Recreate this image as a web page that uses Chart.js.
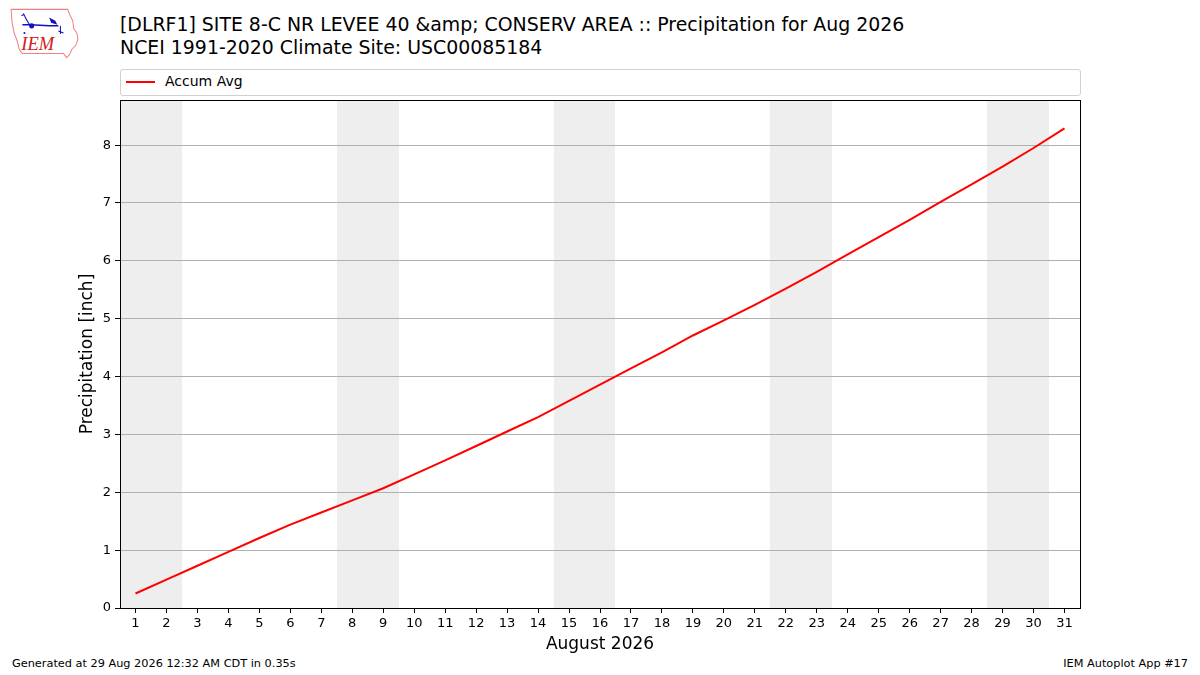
<!DOCTYPE html>
<html>
<head>
<meta charset="utf-8">
<script src="https://cdn.jsdelivr.net/npm/chart.js@4.4.1/dist/chart.umd.min.js"></script>
<style>
  html, body { margin: 0; padding: 0; background: #fff; }
  body { width: 1200px; height: 675px; position: relative; overflow: hidden; font-family: "DejaVu Sans", sans-serif; }
  #plot { position: absolute; left: 0; top: 0; }
  .title { position: absolute; left: 120px; font-size: 18.9px; color: #000; white-space: nowrap; }
  #legend { position: absolute; left: 120px; top: 69px; width: 961px; height: 27px; border: 1px solid #d0d0d0; border-radius: 3px; box-sizing: border-box; }
  #legend .swatch { position: absolute; left: 5px; top: 11px; width: 29px; height: 2px; background: red; }
  #legend .lbl { position: absolute; left: 44px; top: 3px; font-size: 14px; }
  .foot { position: absolute; top: 657px; font-size: 11.3px; white-space: nowrap; }
  #logo { position: absolute; left: 8px; top: 6px; }
</style>
</head>
<body>
<svg id="logo" width="74" height="54" viewBox="0 0 72 52">
  <path d="M3,3 L58,3 L60,8 L63,14 L64,22 L67,26 L68,32 L66,38 L62,42 L60,47 L57,50 L54,46 L14,46 L11,42 L9,34 L6,26 L4,16 Z" fill="none" stroke="#f08080" stroke-width="1"/>
  <path d="M14,18 L22,18 L40,19 L49,19" stroke="#1010c0" stroke-width="1.5" fill="none"/>
  <circle cx="23" cy="19" r="2.5" fill="#1010c0"/>
  <path d="M40,11 L46,14 L48,18 L42,16 Z" fill="#1010c0"/>
  <path d="M15,7 L18,13 L21,18 M13,9 L16,8" stroke="#1010c0" stroke-width="1" fill="none"/>
  <path d="M51,19 L51,27 M49,24 L54,26" stroke="#1010c0" stroke-width="1" fill="none"/>
  <circle cx="16" cy="26" r="1" fill="#1010c0"/>
  <text x="13" y="43" font-family="Liberation Serif, serif" font-style="italic" font-size="18" fill="#d02020">IEM</text>
</svg>
<div class="title" style="top:13px;">[DLRF1] SITE 8-C NR LEVEE 40 &amp;amp; CONSERV AREA :: Precipitation for Aug 2026</div>
<div class="title" style="top:36px;">NCEI 1991-2020 Climate Site: USC00085184</div>
<div id="legend"><div class="swatch"></div><div class="lbl">Accum Avg</div></div>
<div class="foot" style="left:12px;">Generated at 29 Aug 2026 12:32 AM CDT in 0.35s</div>
<div class="foot" style="right:12px;">IEM Autoplot App #17</div>
<canvas id="plot" width="1200" height="675"></canvas>
<script>
// days of August 2026 and the average accumulated precipitation (inch)
const days = [1, 2, 3, 4, 5, 6, 7, 8, 9, 10, 11, 12, 13, 14, 15, 16, 17, 18, 19, 20, 21, 22, 23, 24, 25, 26, 27, 28, 29, 30, 31];
const accumAvg = [0.25, 0.49, 0.73, 0.97, 1.21, 1.44, 1.65, 1.86, 2.07, 2.31, 2.55, 2.80, 3.05, 3.30, 3.58, 3.86, 4.14, 4.42, 4.71, 4.97, 5.24, 5.52, 5.81, 6.11, 6.41, 6.71, 7.02, 7.32, 7.63, 7.95, 8.29];
// Saturdays and Sundays get the grey band
const weekendDays = [1, 2, 8, 9, 15, 16, 22, 23, 29, 30];
const yTicks = [0, 1, 2, 3, 4, 5, 6, 7, 8];

// grey weekend bands go under the grid lines
const weekendBands = {
    id: 'weekendBands',
    beforeDraw(chart) {
        const ctx = chart.ctx;
        const area = chart.chartArea;
        const x = chart.scales.x;
        ctx.save();
        ctx.fillStyle = '#eeeeee';
        weekendDays.forEach(function (d) {
            // rounded so two neighbouring days don't leave a seam
            const x0 = Math.round(x.getPixelForValue(d - 0.5));
            const x1 = Math.round(x.getPixelForValue(d + 0.5));
            ctx.fillRect(x0, area.top, x1 - x0, area.bottom - area.top);
        });
        ctx.restore();
    }
};

// black frame round the plot
const frame = {
    id: 'frame',
    afterDraw(chart) {
        const ctx = chart.ctx;
        const a = chart.chartArea;
        ctx.save();
        ctx.strokeStyle = '#000';
        ctx.lineWidth = 1;
        ctx.strokeRect(Math.round(a.left) + 0.5, Math.round(a.top) + 0.5, Math.round(a.right - a.left), Math.round(a.bottom - a.top));
        ctx.restore();
    }
};

const canvas = document.getElementById('plot');
const context = canvas.getContext('2d');

new Chart(context, {
    type: 'line',
    data: {
        datasets: [{
            label: 'Accum Avg',
            data: days.map((d, i) => ({ x: d, y: accumAvg[i] })),
            borderColor: 'red',
            backgroundColor: 'red',
            borderWidth: 2,
            pointRadius: 0,
            tension: 0,
            fill: false
        }]
    },
    options: {
        responsive: false,
        animation: false,
        layout: { padding: { top: 100, right: 120, left: 0, bottom: 0 } },
        plugins: {
            legend: { display: false },
            tooltip: { enabled: false }
        },
        scales: {
            x: {
                type: 'linear',
                min: 0.5,
                max: 31.5,
                afterBuildTicks(scale) { scale.ticks = days.map(d => ({ value: d })); },
                afterFit(scale) { scale.height = 67; },
                grid: { display: true, drawOnChartArea: false, tickLength: 5, tickColor: '#000', color: '#000' },
                border: { display: true, color: '#000', width: 1 },
                ticks: { color: '#000', padding: 3, maxRotation: 0, autoSkip: false, font: { family: 'DejaVu Sans', size: 13 } },
                title: { display: true, text: 'August 2026', color: '#000', font: { family: 'DejaVu Sans', size: 17 }, padding: { top: 0, bottom: 20 } }
            },
            y: {
                type: 'linear',
                min: 0,
                max: 8.78,
                afterBuildTicks(scale) { scale.ticks = yTicks.map(v => ({ value: v })); },
                afterFit(scale) { scale.width = 120; },
                grid: { color: '#b0b0b0', tickLength: 5, tickColor: '#000', lineWidth: 1 },
                border: { display: true, color: '#000', width: 1 },
                ticks: { color: '#000', padding: 4, font: { family: 'DejaVu Sans', size: 13 } },
                title: { display: true, text: 'Precipitation [inch]', color: '#000', font: { family: 'DejaVu Sans', size: 17 }, padding: { top: 77, bottom: 0 } }
            }
        }
    },
    plugins: [weekendBands, frame]
});
</script>
</body>
</html>
